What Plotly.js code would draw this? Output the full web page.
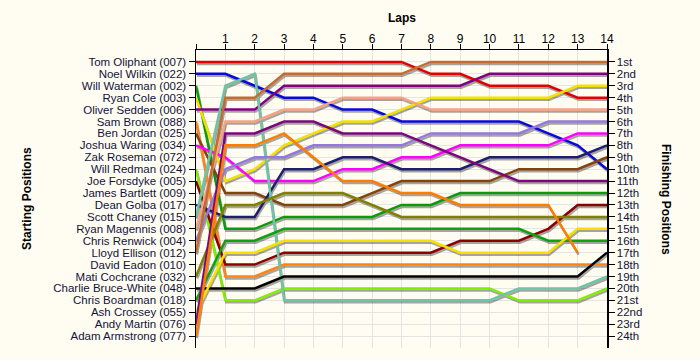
<!DOCTYPE html>
<html>
<head>
<meta charset="utf-8">
<script src="https://cdn.plot.ly/plotly-3.0.1.min.js"></script>
<style>
html,body{margin:0;padding:0;background:#fffdf2;}
#chart{width:700px;height:360px;}
#chart .scatterlayer{filter:drop-shadow(1px 2px 0.5px rgba(0,0,0,0.35));}
</style>
</head>
<body>
<div id="chart"></div>
<script>
// ---------- DATA ----------
const laps = [0,1,2,3,4,5,6,7,8,9,10,11,12,13,14];
const lapLabels = ['', '1','2','3','4','5','6','7','8','9','10','11','12','13','14'];

const startingGrid = [
  'Tom Oliphant (007)', 'Noel Wilkin (022)', 'Will Waterman (002)', 'Ryan Cole (003)',
  'Oliver Sedden (006)', 'Sam Brown (088)', 'Ben Jordan (025)', 'Joshua Waring (034)',
  'Zak Roseman (072)', 'Will Redman (024)', 'Joe Forsdyke (005)', 'James Bartlett (009)',
  'Dean Golba (017)', 'Scott Chaney (015)', 'Ryan Magennis (008)', 'Chris Renwick (004)',
  'Lloyd Ellison (012)', 'David Eadon (010)', 'Mati Cochcrane (032)', 'Charlie Bruce-White (048)',
  'Chris Boardman (018)', 'Ash Crossey (055)', 'Andy Martin (076)', 'Adam Armstrong (077)'
];
const gridPositions = [1,2,3,4,5,6,7,8,9,10,11,12,13,14,15,16,17,18,19,20,21,22,23,24];
const finishLabels = ['1st','2nd','3rd','4th','5th','6th','7th','8th','9th','10th','11th','12th',
  '13th','14th','15th','16th','17th','18th','19th','20th','21st','22nd','23rd','24th'];

// position at lap 0..14 for each driver
const tomOliphant      = [1, 1,1,1,1,1,1,1,2,2,3,3,3,4,4];
const noelWilkin       = [2, 2,3,4,4,5,5,6,6,6,6,6,7,8,10];
const willWaterman     = [3, 15,15,14,14,14,14,13,13,12,12,12,12,12,12];
const ryanCole         = [4, 11,10,8,7,6,6,5,4,4,4,4,4,3,3];
const oliverSedden     = [5, 5,5,3,3,3,3,3,3,3,2,2,2,2,2];
const samBrown         = [6, 19,19,18,18,18,18,18,18,18,18,18,18,18,18];
const benJordan        = [7, 12,12,13,13,13,12,11,11,11,11,10,10,10,9];
const joshuaWaring     = [8, 9,11,11,11,10,10,9,9,8,8,8,8,7,7];
const willRedman       = [10, 21,21,20,20,20,20,20,20,20,20,21,21,21,20];
const joeForsdyke      = [11, 18,18,17,17,17,17,17,17,16,16,16,15,13,13];
const deanGolba        = [13, 14,14,10,10,9,9,10,10,10,9,9,9,9,8];
const scottChaney      = [14, 3,2,21,21,21,21,21,21,21,21,20,20,20,19];
const ryanMagennis     = [15, 6,6,5,5,4,4,4,5,5,5,5,5,5,5];
const chrisRenwick     = [16, 10,9,9,8,8,8,8,7,7,7,7,6,6,6];
const lloydEllison     = [17, 4,4,2,2,2,2,2,1,1,1,1,1,1,1];
const matiCochcrane    = [19, 13,13,12,12,12,13,14,14,14,14,14,14,14,14];
const charlieBruceWhite= [20, 20,20,19,19,19,19,19,19,19,19,19,19,19,17];
const chrisBoardman    = [21, 16,16,15,15,15,15,15,15,15,15,15,16,16,16];
const ashCrossey       = [22, 17,17,16,16,16,16,16,16,17,17,17,17,15,15];
const andyMartin       = [23, 7,7,6,6,7,7,7,8,9,10,11,11,11,11];
const adamArmstrong    = [24, 8,8,7,9,11,11,12,12,13,13,13,13,17];

// ---------- STYLE ----------
const series = [
  {name:'Tom Oliphant (007)', y:tomOliphant, color:'#e00000'},
  {name:'Noel Wilkin (022)', y:noelWilkin, color:'#0a0ad8'},
  {name:'Will Waterman (002)', y:willWaterman, color:'#0a9a0a'},
  {name:'Ryan Cole (003)', y:ryanCole, color:'#f5e000'},
  {name:'Oliver Sedden (006)', y:oliverSedden, color:'#800080'},
  {name:'Sam Brown (088)', y:samBrown, color:'#ff8418'},
  {name:'Ben Jordan (025)', y:benJordan, color:'#84420c'},
  {name:'Joshua Waring (034)', y:joshuaWaring, color:'#ff00ff'},
  {name:'Will Redman (024)', y:willRedman, color:'#80ee00'},
  {name:'Joe Forsdyke (005)', y:joeForsdyke, color:'#8b0000'},
  {name:'Dean Golba (017)', y:deanGolba, color:'#1e1e6e'},
  {name:'Scott Chaney (015)', y:scottChaney, color:'#6ec4a6'},
  {name:'Ryan Magennis (008)', y:ryanMagennis, color:'#f9a283'},
  {name:'Chris Renwick (004)', y:chrisRenwick, color:'#9478dc'},
  {name:'Lloyd Ellison (012)', y:lloydEllison, color:'#c46c30'},
  {name:'Mati Cochcrane (032)', y:matiCochcrane, color:'#808000'},
  {name:'Charlie Bruce-White (048)', y:charlieBruceWhite, color:'#000000'},
  {name:'Chris Boardman (018)', y:chrisBoardman, color:'#10a010'},
  {name:'Ash Crossey (055)', y:ashCrossey, color:'#f5e000'},
  {name:'Andy Martin (076)', y:andyMartin, color:'#7a087a'},
  {name:'Adam Armstrong (077)', y:adamArmstrong, color:'#ff7c00'}
];

const traces = series.map(s => ({
  type:'scatter', mode:'lines', name:s.name,
  x: laps.slice(0, s.y.length), y: s.y,
  line:{color:s.color, width:2.5},
  hoverinfo:'name+y', showlegend:false
}));
traces.push({type:'scatter', mode:'lines', x:[null], y:[null], yaxis:'y2', showlegend:false, hoverinfo:'skip'});

const bg = '#fffdf2';
const labelColor = '#12123c';
const fam = '"Liberation Sans", Arial, sans-serif';
const font = {family:fam, size:11.5, color:labelColor};

const yCommon = {
  range:[25, 0], tickmode:'array', tickvals:gridPositions,
  ticks:'outside', ticklen:6, tickwidth:1, tickcolor:'#000',
  showline:true, linecolor:'#000', linewidth:1.5,
  zeroline:false, fixedrange:true, tickfont:font
};

const layout = {
  width:700, height:360,
  margin:{l:196, r:93, t:50, b:12, pad:0},
  paper_bgcolor:bg, plot_bgcolor:bg,
  font:font,
  xaxis:{
    side:'top', range:[0,14], tickmode:'array', tickvals:laps, ticktext:lapLabels,
    ticks:'outside', ticklen:5, tickcolor:'#000', ticklabelstandoff:-4,
    showline:true, linecolor:'#000', linewidth:1.5,
    showgrid:true, gridcolor:'#e4e4e4', gridwidth:1,
    zeroline:false, fixedrange:true, tickfont:{family:fam, size:12, color:'#000'}
  },
  yaxis: Object.assign({}, yCommon, {ticktext:startingGrid, showgrid:true, gridcolor:'#e4e4e4', gridwidth:1}),
  yaxis2: Object.assign({}, yCommon, {ticktext:finishLabels, overlaying:'y', side:'right', showgrid:false}),
  annotations:[
    {text:'<b>Laps</b>', xref:'paper', yref:'paper', x:0.5, y:1, yanchor:'middle', yshift:32, showarrow:false,
     font:{family:fam, size:12, color:'#000'}},
    {text:'<b>Starting Positions</b>', xref:'paper', yref:'paper', x:0, xanchor:'center', xshift:-169, y:0.5, yanchor:'middle', textangle:-90,
     showarrow:false, font:{family:fam, size:12, color:'#000'}},
    {text:'<b>Finishing Positions</b>', xref:'paper', yref:'paper', x:1, xanchor:'center', xshift:59, y:0.5, yanchor:'middle', textangle:90,
     showarrow:false, font:{family:fam, size:12, color:'#000'}}
  ]
};

Plotly.newPlot('chart', traces, layout, {displayModeBar:false, staticPlot:true});
</script>
</body>
</html>
